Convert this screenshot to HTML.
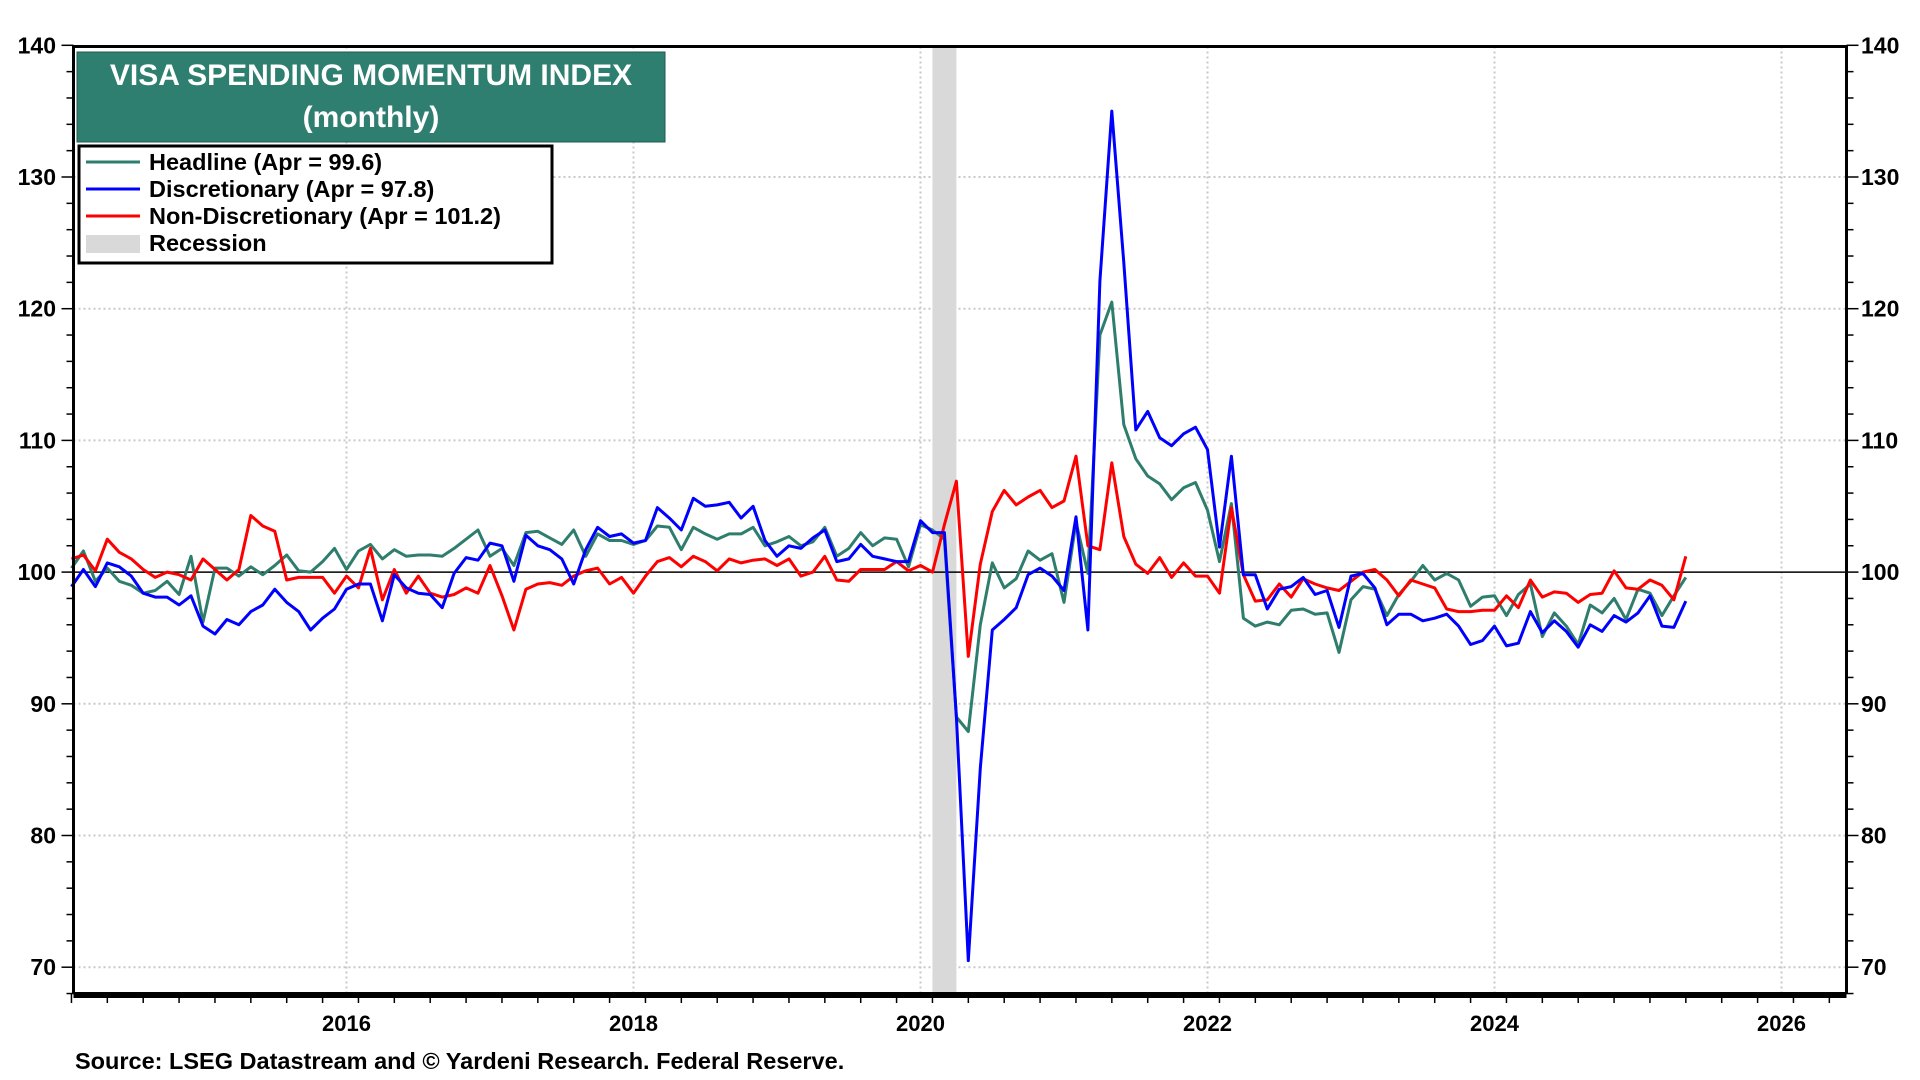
<!DOCTYPE html>
<html><head><meta charset="utf-8"><style>
html,body{margin:0;padding:0;background:#fff;}
svg{display:block;font-family:"Liberation Sans",Arial,sans-serif;}
</style></head><body>
<svg id="chart" width="1920" height="1080" viewBox="0 0 1920 1080" xmlns="http://www.w3.org/2000/svg">
<g id="grid"></g>
<rect id="recession" fill="#d9d9d9"/>
<g id="series"></g>
<g id="axes"></g>
<g>
<rect x="77" y="52" width="588" height="90" fill="#2f7f70" stroke="#1f5a4f" stroke-width="1"/>
<text x="371" y="85" fill="#fff" font-size="30" font-weight="bold" text-anchor="middle">VISA SPENDING MOMENTUM INDEX</text>
<text x="371" y="127" fill="#fff" font-size="30" font-weight="bold" text-anchor="middle">(monthly)</text>
</g>
<g>
<rect x="79" y="146" width="473" height="117" fill="#fff" stroke="#000" stroke-width="3"/>
<g><line x1="86" y1="162" x2="140" y2="162" stroke="#2e7d6d" stroke-width="3"/><text x="149" y="170" font-size="23.5" font-weight="bold">Headline (Apr = 99.6)</text></g>
<g><line x1="86" y1="189" x2="140" y2="189" stroke="#0000ff" stroke-width="3"/><text x="149" y="197" font-size="23.5" font-weight="bold">Discretionary (Apr = 97.8)</text></g>
<g><line x1="86" y1="216" x2="140" y2="216" stroke="#ff0000" stroke-width="3"/><text x="149" y="224" font-size="23.5" font-weight="bold">Non-Discretionary (Apr = 101.2)</text></g>
<g><rect x="86" y="235" width="54" height="18" fill="#d9d9d9"/><text x="149" y="251" font-size="23.5" font-weight="bold">Recession</text></g>
</g>
<text x="75" y="1069" font-size="23.5" font-weight="bold">Source: LSEG Datastream and © Yardeni Research. Federal Reserve.</text>
</svg>
<script>
const yTicks = [70, 80, 90, 100, 110, 120, 130, 140];
const xYears = [2016, 2018, 2020, 2022, 2024, 2026];
const startYear = 2014;
const recessionStart = 2020 + 1/12;
const recessionEnd = 2020.25;
const headline = [100.3,101.6,99.3,100.3,99.3,99.0,98.4,98.6,99.3,98.3,101.2,96.2,100.3,100.3,99.7,100.4,99.8,100.5,101.3,100.1,100.0,100.8,101.8,100.2,101.6,102.1,101.0,101.7,101.2,101.3,101.3,101.2,101.8,102.5,103.2,101.2,101.8,100.5,103.0,103.1,102.6,
102.1,103.2,101.2,102.9,102.4,102.4,102.1,102.4,103.5,103.4,101.7,103.4,102.9,102.5,102.9,102.9,103.4,102.0,102.3,102.7,102.0,102.3,103.4,101.2,101.8,103.0,102.0,102.6,102.5,100.4,103.6,
103.2,102.5,89.0,87.9,96.0,100.7,98.8,99.5,101.6,100.9,101.4,97.7,103.8,99.9,118.0,120.5,111.2,108.6,107.3,106.7,105.5,106.4,106.8,104.7,100.8,105.2,
96.5,95.9,96.2,96.0,97.1,97.2,96.8,96.9,93.9,97.9,98.9,98.7,96.7,98.3,99.3,100.5,99.4,99.9,99.4,97.4,98.1,98.2,96.7,98.3,99.1,95.1,96.9,95.9,94.5,97.5,96.9,98.0,96.4,98.7,98.4,96.7,98.2,99.6];
const discretionary = [98.9,100.2,98.9,100.7,100.4,99.7,98.4,98.1,98.1,97.5,98.2,95.9,95.3,96.4,96.0,97.0,97.5,98.7,97.7,97.0,95.6,96.5,97.2,98.7,99.1,99.1,96.3,99.8,98.8,98.4,98.3,97.3,99.9,101.1,100.9,102.2,102.0,99.3,102.8,102.0,101.7,
101.0,99.1,101.7,103.4,102.7,102.9,102.2,102.4,104.9,104.1,103.2,105.6,105.0,105.1,105.3,104.1,105.0,102.4,101.2,102.0,101.8,102.6,103.2,100.8,101.0,102.1,101.2,101.0,100.8,100.8,103.9,
103.0,103.0,89.0,70.5,85.1,95.6,96.4,97.3,99.8,100.3,99.7,98.6,104.2,95.6,122.1,135.0,123.5,110.8,112.2,110.2,109.6,110.5,111.0,109.3,101.9,108.8,
99.8,99.8,97.2,98.7,98.9,99.6,98.3,98.6,95.8,99.7,99.9,98.8,96.0,96.8,96.8,96.3,96.5,96.8,95.9,94.5,94.8,95.9,94.4,94.6,97.0,95.4,96.3,95.5,94.3,96.0,95.5,96.7,96.2,96.9,98.2,95.9,95.8,97.8];
const nonDiscretionary = [101.0,101.3,100.1,102.5,101.5,101.0,100.2,99.6,100.0,99.8,99.4,101.0,100.2,99.4,100.2,104.3,103.5,103.1,99.4,99.6,99.6,99.6,98.4,99.7,98.8,101.8,97.9,100.2,98.4,99.7,98.4,98.1,98.3,98.8,98.4,100.5,98.2,95.6,98.7,99.1,99.2,
99.0,99.7,100.1,100.3,99.1,99.6,98.4,99.7,100.8,101.1,100.4,101.2,100.8,100.1,101.0,100.7,100.9,101.0,100.5,101.0,99.7,100.0,101.2,99.4,99.3,100.2,100.2,100.2,100.8,100.1,100.5,
100.0,103.6,106.9,93.6,100.6,104.6,106.2,105.1,105.7,106.2,104.9,105.4,108.8,102.0,101.7,108.3,102.7,100.6,99.9,101.1,99.6,100.7,99.7,99.7,98.4,104.9,
99.8,97.8,97.9,99.1,98.1,99.5,99.1,98.8,98.6,99.3,100.0,100.2,99.4,98.2,99.4,99.1,98.8,97.2,97.0,97.0,97.1,97.1,98.2,97.3,99.4,98.1,98.5,98.4,97.7,98.3,98.4,100.1,98.8,98.7,99.4,99.0,97.9,101.2];

const NS='http://www.w3.org/2000/svg';
const L=73.5,R=1846.5,T=46.5,B=994;
function xScale(t){return 346.5+(t-2016)*143.5;}
function yScale(v){return 45.3+(140-v)*13.17;}
function mk(tag,attrs,parent){const e=document.createElementNS(NS,tag);for(const k in attrs)e.setAttribute(k,attrs[k]);parent.appendChild(e);return e;}
const grid=document.getElementById('grid'),axes=document.getElementById('axes'),series=document.getElementById('series');

yTicks.forEach(v=>{
  if(v!==100&&v!==140){const g=mk('line',{x1:L,x2:R,y1:yScale(v),y2:yScale(v),stroke:'#c8c8c8','stroke-width':2,'stroke-dasharray':'2,3'},grid);
  
  }
  const tl=mk('text',{x:56,y:yScale(v)+8,'font-size':23,'font-weight':'bold','text-anchor':'end'},axes);tl.textContent=v;
  
  
  const tr=mk('text',{x:1861,y:yScale(v)+8,'font-size':23,'font-weight':'bold','text-anchor':'start'},axes);tr.textContent=v;
  
  
});
for(let v=68;v<=140;v+=2){
  const big=v%10===0;
  mk('line',{x1:L-(big?12:7),x2:L,y1:yScale(v),y2:yScale(v),stroke:'#000','stroke-width':1.5},axes);
  mk('line',{x1:R,x2:R+(big?12:7),y1:yScale(v),y2:yScale(v),stroke:'#000','stroke-width':1.5},axes);
}
xYears.forEach(y=>{
  const g=mk('line',{x1:xScale(y),x2:xScale(y),y1:T,y2:B,stroke:'#c8c8c8','stroke-width':2,'stroke-dasharray':'2,3'},grid);
  
  
  const t=mk('text',{x:xScale(y),y:1031,'font-size':22,'font-weight':'bold','text-anchor':'middle'},axes);t.textContent=y;
  
  
});
for(let q=2014+1/12;xScale(q)<R;q+=0.25){
  const yr=Math.abs(q-Math.round(q))<0.01;
  mk('line',{x1:xScale(q),x2:xScale(q),y1:B,y2:B+(yr?14:9),stroke:'#000','stroke-width':1.5},axes);
}
const rec=document.getElementById('recession');
rec.setAttribute('x',xScale(recessionStart));rec.setAttribute('width',xScale(recessionEnd)-xScale(recessionStart));
rec.setAttribute('y',T);rec.setAttribute('height',B-T);

const zero=mk('line',{x1:L,x2:R,y1:yScale(100),y2:yScale(100),stroke:'#000','stroke-width':1.5},series);



function drawLine(data,color,name){
  const pts=data.map((v,i)=>xScale(startYear+(i+1)/12).toFixed(1)+','+yScale(v).toFixed(1)).join(' ');
  const p=mk('polyline',{points:pts,fill:'none',stroke:color,'stroke-width':3,'stroke-linejoin':'round'},series);
  
  
}
drawLine(headline,'#2e7d6d','headline-line');
drawLine(nonDiscretionary,'#ff0000','non-discretionary-line');
drawLine(discretionary,'#0000ff','discretionary-line');

const fr=mk('path',{d:`M${L},${B} L${L},${T} L${R},${T} L${R},${B}`,fill:'none',stroke:'#000','stroke-width':3},axes);


const bx=mk('line',{x1:L,x2:R,y1:B+1,y2:B+1,stroke:'#000','stroke-width':6},axes);


</script>
</body></html>
